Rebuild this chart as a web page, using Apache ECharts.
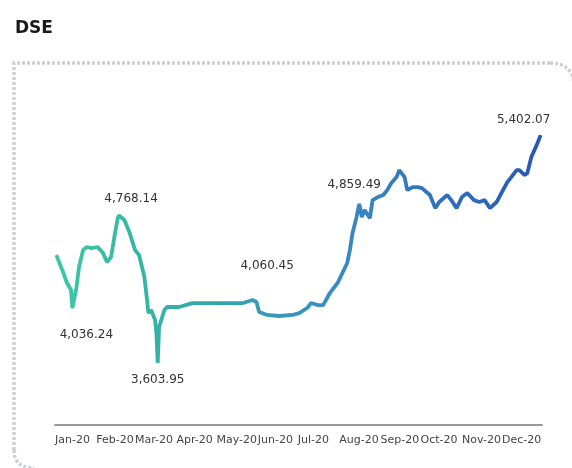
<!DOCTYPE html>
<html>
<head>
<meta charset="utf-8">
<script src="https://cdn.jsdelivr.net/npm/echarts@6/dist/echarts.min.js"></script>
<style>
html,body{margin:0;padding:0;background:#fff;}
#c{width:572px;height:468px;}
</style>
</head>
<body>
<div id="c"></div>
<script>
const titleText = 'DSE';
const monthLabels = ['Jan-20','Feb-20','Mar-20','Apr-20','May-20','Jun-20','Jul-20','Aug-20','Sep-20','Oct-20','Nov-20','Dec-20'];
const dates = ['2020-01-02','2020-01-07','2020-01-10','2020-01-13','2020-01-14','2020-01-17','2020-01-19','2020-01-22','2020-01-25','2020-01-28',
'2020-02-02','2020-02-06','2020-02-09','2020-02-12','2020-02-15','2020-02-17','2020-02-18','2020-02-22','2020-02-26',
'2020-03-01','2020-03-04','2020-03-08','2020-03-10','2020-03-11','2020-03-13','2020-03-16','2020-03-17','2020-03-18','2020-03-19','2020-03-23','2020-03-25',
'2020-04-03','2020-04-13','2020-04-26',
'2020-05-09','2020-05-21','2020-05-28','2020-05-31',
'2020-06-02','2020-06-08','2020-06-17','2020-06-27',
'2020-07-02','2020-07-08','2020-07-11','2020-07-16','2020-07-20','2020-07-25','2020-07-31',
'2020-08-07','2020-08-09','2020-08-11','2020-08-14','2020-08-16','2020-08-18','2020-08-20','2020-08-24','2020-08-26','2020-08-30',
'2020-09-03','2020-09-06','2020-09-09','2020-09-13','2020-09-15','2020-09-19','2020-09-21','2020-09-25','2020-09-29',
'2020-10-02','2020-10-08','2020-10-12','2020-10-15','2020-10-21','2020-10-24','2020-10-28',
'2020-11-01','2020-11-05','2020-11-10','2020-11-14','2020-11-18','2020-11-22','2020-11-27',
'2020-12-01','2020-12-05','2020-12-08','2020-12-12','2020-12-14','2020-12-18','2020-12-20','2020-12-23','2020-12-27','2020-12-30'];
const values = [4456,4322,4235,4180,4036.24,4195,4361,4495,4519,4511,
4519,4471,4400,4440,4629,4747,4768.14,4732,4629,
4495,4456,4282,4101,3998,4022,3943,3841,3603.95,3888,4022,4046,
4046,4077,4077,
4077,4077,4101,4085,
4006,3983,3975,3983,
3998,4038,4077,4061,4061,4156,4239,
4393,4495,4629,4755,4859.49,4755,4811,4747,4889,4913,
4929,4968,5023,5071,5126,5071,4968,4992,4992,
4984,4929,4826,4874,4929,4889,4826,
4913,4945,4889,4874,4889,4826,4874,
4953,5031,5071,5126,5126,5087,5102,5229,5323,5402.07];
const noteDates = ['2020-01-14','2020-02-18','2020-03-18','2020-06-08','2020-08-16','2020-12-30'];
const noteValues = [4036.24,4768.14,3603.95,4060.45,4859.49,5402.07];
const noteTexts = ['4,036.24','4,768.14','3,603.95','4,060.45','4,859.49','5,402.07'];
const noteOffsets = [[14,27],[12,-17],[0,17],[0,-39],[-5,-19],[-17,-15]];

const chart = echarts.init(document.getElementById('c'), null, {renderer:'canvas'});
const seriesData = dates.map((d,i)=>[d, values[i]]);
const DAY = 24*3600*1000;
const frameStyle = {fill:'none',stroke:'#cfcfd8',lineWidth:3.5,lineDash:[3,2]};
chart.setOption({
  animation:false,
  backgroundColor:'#fff',
  title:{text:titleText,left:10,top:15,textStyle:{fontFamily:'DejaVu Sans',fontWeight:'bold',fontSize:17,color:'#1a1a1a'}},
  graphic:[
    {type:'polyline',silent:true,z:-1,shape:{points:[[14,450],[14,63],[550,63]]},style:frameStyle},
    {type:'bezierCurve',silent:true,z:-1,shape:{x1:550,y1:63,cpx1:574,cpy1:63,x2:574,y2:87},style:frameStyle},
    {type:'bezierCurve',silent:true,z:-1,shape:{x1:14,y1:450,cpx1:14,cpy1:468,x2:34,y2:468},style:frameStyle}
  ],
  grid:{left:55,right:30,top:110,height:315},
  xAxis:{type:'time',min:'2020-01-01',max:'2020-12-31',splitNumber:12,minInterval:28*DAY,maxInterval:31*DAY,
    axisLine:{show:true,lineStyle:{color:'#9a9a9a',width:2}},
    axisTick:{show:false},splitLine:{show:false},
    axisLabel:{show:true,hideOverlap:false,showMaxLabel:false,align:'left',margin:10,
      fontFamily:'DejaVu Sans',fontSize:11,color:'#444',
      formatter:(v)=>monthLabels[new Date(v).getMonth()]}},
  yAxis:{type:'value',min:3115,max:5600,show:false,splitLine:{show:false}},
  series:[{type:'line',data:seriesData,showSymbol:false,symbol:'none',smooth:false,
    lineStyle:{width:3.8,color:{type:'linear',x:0,y:0,x2:1,y2:0,colorStops:[
      {offset:0,color:'#3ec8a4'},{offset:0.3,color:'#31a9a8'},{offset:0.55,color:'#3a8fc2'},{offset:1,color:'#2a56b6'}]}},
    markPoint:{symbol:'circle',symbolSize:0,animation:false,
      label:{show:true,fontFamily:'DejaVu Sans',fontSize:12,color:'#333'},
      data:noteDates.map((d,i)=>({coord:[d,noteValues[i]],value:noteValues[i],
        label:{formatter:noteTexts[i],position:'inside',offset:noteOffsets[i]}}))}
  }]
});
</script>
</body>
</html>
